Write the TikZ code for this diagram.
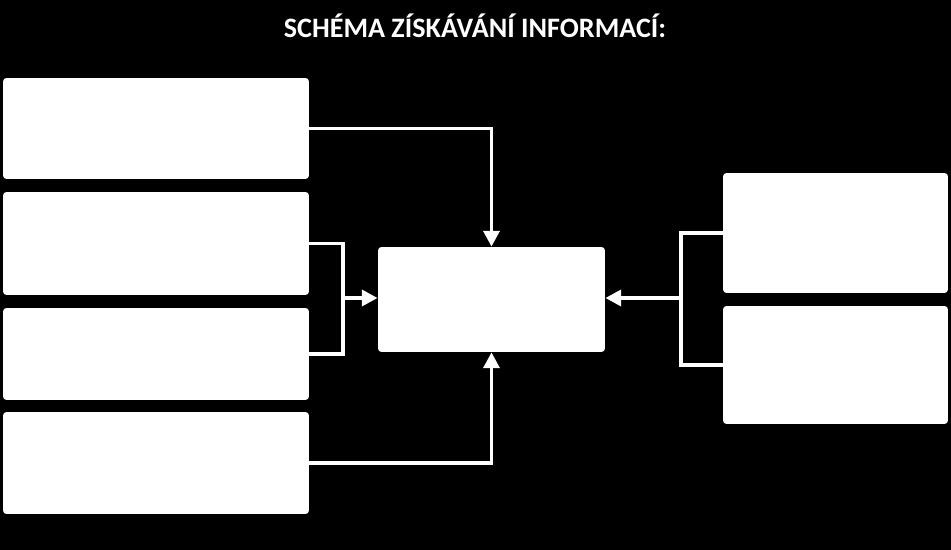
\documentclass[tikz,border=0pt]{standalone}
\usepackage{fontspec}
\setmainfont{Carlito}
\usetikzlibrary{positioning}
\usetikzlibrary{arrows.meta}

\tikzset{
  box/.style={fill=white,rounded corners=2pt,inner sep=0pt},
  link/.style={white,line width=2.2pt},
  tip/.style={link,-{Triangle[length=9pt,width=9pt]}}
}

\begin{document}
\begin{tikzpicture}[x=0.02cm,y=-0.02cm]
\fill[black] (0,0) rectangle (951,550);

\node[white,font=\bfseries\fontsize{16}{18}\selectfont] (title) at (475,26) {SCHÉMA ZÍSKÁVÁNÍ INFORMACÍ:};

% left column
\node[box,minimum width=6.12cm,minimum height=2.02cm] (src1) at (156,128.5) {};
\node[box,minimum width=6.12cm,minimum height=2.06cm] (src2) at (156,243.5) {};
\node[box,minimum width=6.12cm,minimum height=1.84cm] (src3) at (156,354) {};
\node[box,minimum width=6.12cm,minimum height=2.04cm] (src4) at (156,463) {};

% centre
\node[box,minimum width=4.54cm,minimum height=2.10cm] (info) at (491.5,299.5) {};

% right column
\node[box,minimum width=4.50cm,minimum height=2.40cm] (out1) at (835.5,233) {};
\node[box,minimum width=4.50cm,minimum height=2.36cm] (out2) at (835.5,365) {};

\coordinate (jl) at (343,298);
\coordinate (jr) at (681,298);

\draw[tip] (src1.east) -| (info.north);
\draw[tip] (src4.east) -| (info.south);
\draw[link] (src2.east) -| (jl) |- (src3.east);
\draw[tip] (jl) -- (info.west |- jl);
\draw[link] (out1.west) -| (jr) |- (out2.west);
\draw[tip] (jr) -- (info.east |- jr);
\end{tikzpicture}
\end{document}
